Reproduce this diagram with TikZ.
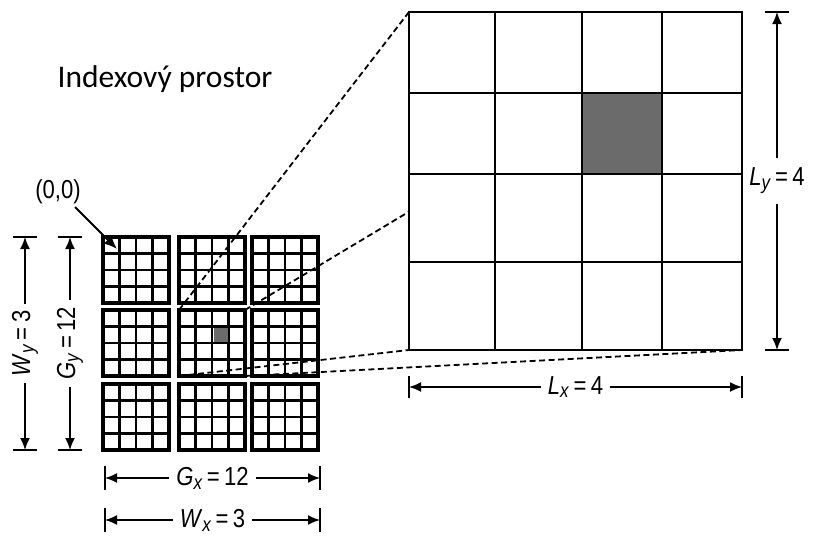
\documentclass[tikz,border=0pt]{standalone}
\usepackage{fontspec}
\setmainfont{Carlito}
\newfontfamily\dimfont[FakeStretch=0.85]{Liberation Sans}
\usetikzlibrary{arrows.meta}
\newcommand\dv[2]{\textit{#1}\raisebox{-0.28ex}{\fontsize{20}{20}\selectfont\textit{#2}}}
\begin{document}
\begin{tikzpicture}[x=1pt,y=-1pt,
  tip/.tip={Latex[length=12pt,width=10pt]},
  dimline/.style={line width=1.6pt,{tip}-{tip}},
  tickline/.style={line width=2.4pt},
  dimtext/.style={font=\dimfont\fontsize{26}{26}\selectfont,fill=white,inner sep=7pt},
  zoomline/.style={line width=1.8pt,dash pattern=on 6pt off 3.5pt},
  smallgrid/.style={line width=2.6pt},
  blockframe/.style={line width=3.2pt},
  biggrid/.style={line width=2.1pt},
  cellshade/.style={fill=black!58}]
\useasboundingbox (0,0) rectangle (815,536);

% title
\node[font=\fontsize{31.5}{31.5}\selectfont] (title) at (165,79) {Indexový prostor};

% small blocks
\foreach \bx in {103,179,252}{
  \foreach \by in {237,310,384}{
    \foreach \k in {1,2,3}{
      \draw[smallgrid] ({\bx+16.5*\k},\by) -- ({\bx+16.5*\k},\by+66);
      \draw[smallgrid] (\bx,{\by+16.5*\k}) -- (\bx+66,{\by+16.5*\k});
    }
    \draw[blockframe] (\bx,\by) rectangle (\bx+66,\by+66);
  }
}
\fill[cellshade] (213.5,328) rectangle (227.5,342);

% corners of the middle block and the enlarged block
\coordinate (mtl) at (179,310);
\coordinate (mtr) at (245,310);
\coordinate (mbl) at (179,376);
\coordinate (mbr) at (245,376);
\coordinate (btl) at (409,12);
\coordinate (btr) at (742,12);
\coordinate (bbl) at (409,350);
\coordinate (bbr) at (742,350);

% zoom lines
\draw[zoomline] (mtl) -- (btl);
\draw[zoomline] (mtr) -- (btr);
\draw[zoomline] (mbl) -- (bbl);
\draw[zoomline] (mbr) -- (bbr);

% enlarged block
\fill[white] (btl) rectangle (bbr);
\fill[cellshade] (582,93) rectangle (662,174);
\foreach \xx in {495,582,662}{ \draw[biggrid] (\xx,12) -- (\xx,350); }
\foreach \yy in {93,174,262}{ \draw[biggrid] (409,\yy) -- (742,\yy); }
\draw[biggrid] (btl) rectangle (bbr);

% (0,0) label
\node[font=\dimfont\fontsize{26}{26}\selectfont,inner sep=0pt] (orig) at (58,192) {(0,0)};
\coordinate (origs) at (75,207);
\coordinate (orige) at (117,249);
\draw[line width=2pt,-{Latex[length=13pt,width=11pt]}] (origs) -- (orige);

% W_y
\coordinate (wyt) at (25,237); \coordinate (wyb) at (25,450);
\draw[tickline] (13,237) -- (37,237);
\draw[tickline] (13,450) -- (37,450);
\draw[dimline] (wyt) -- node[dimtext,rotate=90] (wylab) {\dv{W}{y}\,=\,3} (wyb);

% G_y
\coordinate (gyt) at (70,237); \coordinate (gyb) at (70,450);
\draw[tickline] (58,237) -- (82,237);
\draw[tickline] (58,450) -- (82,450);
\draw[dimline] (gyt) -- node[dimtext,rotate=90] (gylab) {\dv{G}{y}\,=\,12} (gyb);

% G_x
\coordinate (gxl) at (105,478); \coordinate (gxr) at (320,478);
\draw[tickline] (105,466) -- (105,490);
\draw[tickline] (320,466) -- (320,490);
\draw[dimline] (gxl) -- node[dimtext] (gxlab) {\dv{G}{x}\,=\,12} (gxr);

% W_x
\coordinate (wxl) at (105,520); \coordinate (wxr) at (320,520);
\draw[tickline] (105,508) -- (105,532);
\draw[tickline] (320,508) -- (320,532);
\draw[dimline] (wxl) -- node[dimtext] (wxlab) {\dv{W}{x}\,=\,3} (wxr);

% L_x
\coordinate (lxl) at (409,387); \coordinate (lxr) at (742,387);
\draw[tickline] (409,376) -- (409,398);
\draw[tickline] (742,376) -- (742,398);
\draw[dimline] (lxl) -- node[dimtext] (lxlab) {\dv{L}{x}\,=\,4} (lxr);

% L_y
\coordinate (lyt) at (777,12); \coordinate (lyb) at (777,350);
\draw[tickline] (765,12) -- (789,12);
\draw[tickline] (765,350) -- (789,350);
\draw[dimline] (lyt) -- node[dimtext,inner xsep=1pt,inner ysep=10pt] (lylab) {\dv{L}{y}\,=\,4} (lyb);
\end{tikzpicture}
\end{document}
